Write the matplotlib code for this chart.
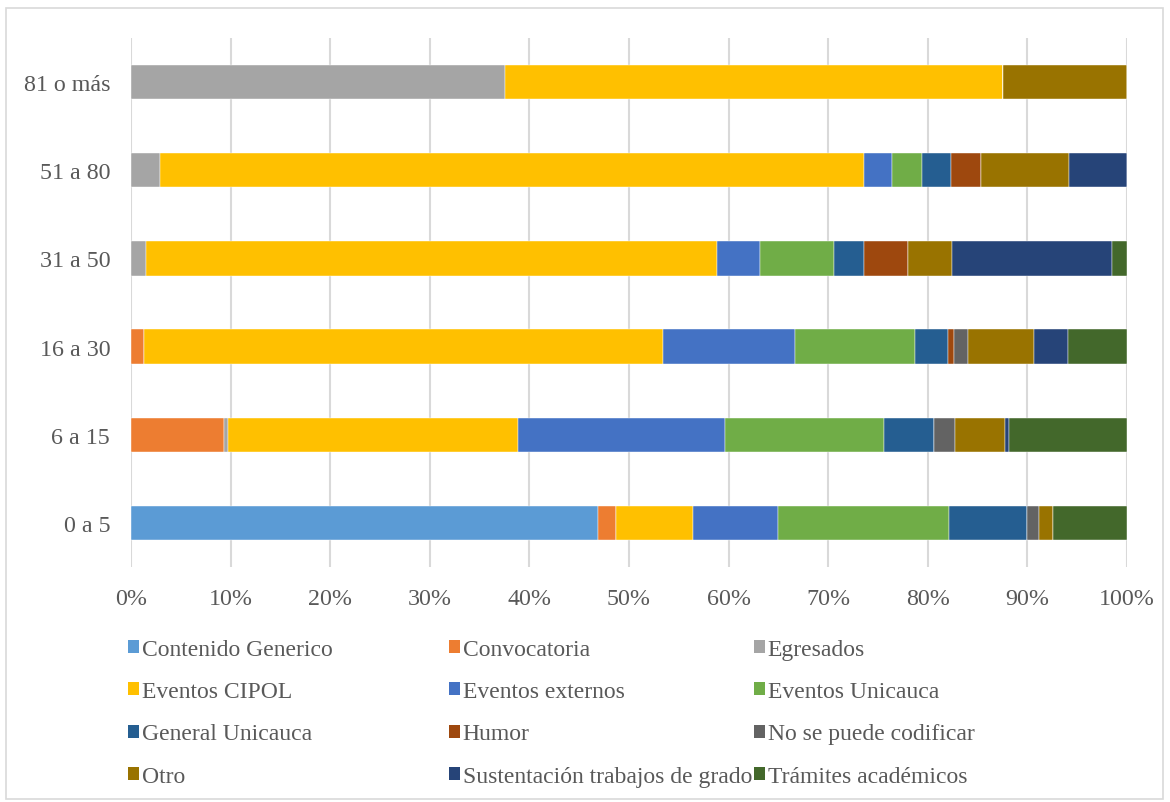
import matplotlib.pyplot as plt
from matplotlib.patches import Patch, Rectangle

# age groups, bottom to top
categories = ["0 a 5", "6 a 15", "16 a 30", "31 a 50", "51 a 80", "81 o más"]

series_names = [
    "Contenido Generico", "Convocatoria", "Egresados",
    "Eventos CIPOL", "Eventos externos", "Eventos Unicauca",
    "General Unicauca", "Humor", "No se puede codificar",
    "Otro", "Sustentación trabajos de grado", "Trámites académicos",
]

# percentage of each category per age group
contenido = [46.9, 0, 0, 0, 0, 0]
convocatoria = [1.8, 9.3, 1.3, 0, 0, 0]
egresados = [0, 0.4, 0, 1.5, 2.9, 37.5]
cipol = [7.7, 29.2, 52.1, 57.3, 70.7, 50.0]
externos = [8.6, 20.7, 13.3, 4.4, 2.8, 0]
unicauca = [17.1, 16.0, 12.0, 7.4, 3.0, 0]
general = [7.9, 5.0, 3.3, 3.0, 2.9, 0]
humor = [0, 0, 0.6, 4.4, 3.0, 0]
no_codificar = [1.2, 2.1, 1.4, 0, 0, 0]
otro = [1.4, 5.1, 6.7, 4.4, 8.9, 12.5]
sustentacion = [0, 0.4, 3.4, 16.1, 5.8, 0]
tramites = [7.4, 11.8, 5.9, 1.5, 0, 0]

series_values = [contenido, convocatoria, egresados, cipol, externos, unicauca,
                 general, humor, no_codificar, otro, sustentacion, tramites]

colors = ["#5B9BD5", "#ED7D31", "#A5A5A5", "#FFC000", "#4472C4", "#70AD47",
          "#255E91", "#9E480E", "#636363", "#997300", "#264478", "#43682B"]

text_color = "#595959"
fs = 17.3
plt.rcParams['font.family'] = ['Liberation Serif', 'DejaVu Serif']

fig = plt.figure(figsize=(11.70, 8.03), dpi=100)
ax = fig.add_axes([131 / 1170, 1 - 568 / 803, (1127 - 131) / 1170, (568 - 39) / 803])

left = [0.0] * len(categories)
for name, vals, col in zip(series_names, series_values, colors):
    ax.barh(categories, [v / 100 for v in vals], left=left, height=0.39,
            color=col, edgecolor="white", linewidth=0.3, label=name, zorder=3)
    left = [l + v / 100 for l, v in zip(left, vals)]

ax.set_xlim(0, 1)
ax.set_ylim(-0.5, 5.5)
ax.set_xticks([i / 10 for i in range(11)])
ax.set_xticklabels([f"{i * 10}%" for i in range(11)])
ax.grid(axis="x", color="#D9D9D9", linewidth=1.5, zorder=0)
for s in ax.spines.values():
    s.set_visible(False)
ax.tick_params(axis="both", length=0, labelsize=fs, colors=text_color)
ax.tick_params(axis="x", pad=15)
ax.tick_params(axis="y", pad=15)

# legend in three columns, row-major like the original
handles = [Patch(facecolor=c, edgecolor="none") for c in colors]
col_x = [128, 449, 754]
for j in range(3):
    idx = list(range(j, len(series_names), 3))
    leg = fig.legend([handles[i] for i in idx], [series_names[i] for i in idx],
                     loc="upper left", bbox_to_anchor=(col_x[j] / 1170, 1 - 640 / 803),
                     frameon=False, fontsize=17, handlelength=0.46, handleheight=0.46,
                     handletextpad=0.12, labelspacing=0.9, borderpad=0, borderaxespad=0)
    for t in leg.get_texts():
        t.set_color(text_color)

# outer chart border
fig.patches.append(Rectangle((6 / 1170, 1 - 800 / 803), (1163 - 6) / 1170, (800 - 9) / 803,
                             transform=fig.transFigure, fill=False,
                             edgecolor="#D9D9D9", linewidth=1.2))

fig.savefig("out.png", dpi=100)
